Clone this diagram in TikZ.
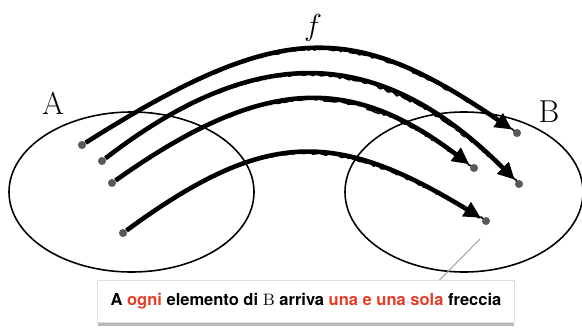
\documentclass[tikz,border=0pt]{standalone}
\usepackage{fontspec}
\setsansfont{TeX Gyre Heros}
\usepackage{xcolor}
\usetikzlibrary{calc,arrows.meta,shadows,decorations.pathmorphing}
\definecolor{rosso}{RGB}{228,62,40}
\definecolor{grigio}{RGB}{88,88,94}

\begin{document}
\begin{tikzpicture}[x=0.02cm,y=0.02cm,
  elem/.style={circle,fill=grigio,inner sep=0pt,minimum size=4.6pt},
  freccia/.style={line width=2.6pt,-{Triangle[length=9.5pt,width=9pt]},shorten >=1pt,
    postaction={draw,-,shorten >=0pt,line width=0.9pt,line join=round,decorate,
      decoration={random steps,segment length=1.6pt,amplitude=0.8pt}}},
  nome/.style={font=\fontsize{18}{20}\selectfont}]
  \useasboundingbox (0,0) rectangle (582,329);
  \draw[line width=0.9pt] (131.5,137) ellipse [x radius=122.5, y radius=80];
  \draw[line width=0.9pt] (464,137) ellipse [x radius=119, y radius=80];
  \node[nome] (labA) at (53,226) {A};
  \node[nome] (labB) at (549,217) {B};
  \node[nome] (labf) at (313,301) {$f$};
  \node[elem] (a1) at (82,184) {};
  \node[elem] (a2) at (102,168) {};
  \node[elem] (a3) at (112,146) {};
  \node[elem] (a4) at (123,96) {};
  \node[elem] (b1) at (517,196) {};
  \node[elem] (b2) at (474,161) {};
  \node[elem] (b3) at (519,145) {};
  \node[elem] (b4) at (486,108) {};
  \draw[freccia] (a1) .. controls (280,309) and (352,309) .. (b1);
  \draw[freccia] (a2) .. controls (255,286) and (378,286) .. (b3);
  \draw[freccia] (a3) .. controls (264,254) and (351,254) .. (b2);
  \draw[freccia] (a4) .. controls (265,200) and (335,200) .. (b4);
  \node[draw=gray!25,fill=white,minimum width=237pt,minimum height=24pt,
    drop shadow={shadow xshift=0pt,shadow yshift=-2pt,opacity=0.55,fill=gray}]
    (cap) at (306,27.5) {\sffamily\bfseries\fontsize{9.4}{11}\selectfont A \textcolor{rosso}{ogni} elemento di $\mathrm{B}$ arriva \textcolor{rosso}{una e una sola} freccia};
  \coordinate (lead) at (480,90);
  \draw[gray!80,line width=0.5pt] (lead) -- ($(cap.north west)!0.82!(cap.north east)$);
\end{tikzpicture}
\end{document}
